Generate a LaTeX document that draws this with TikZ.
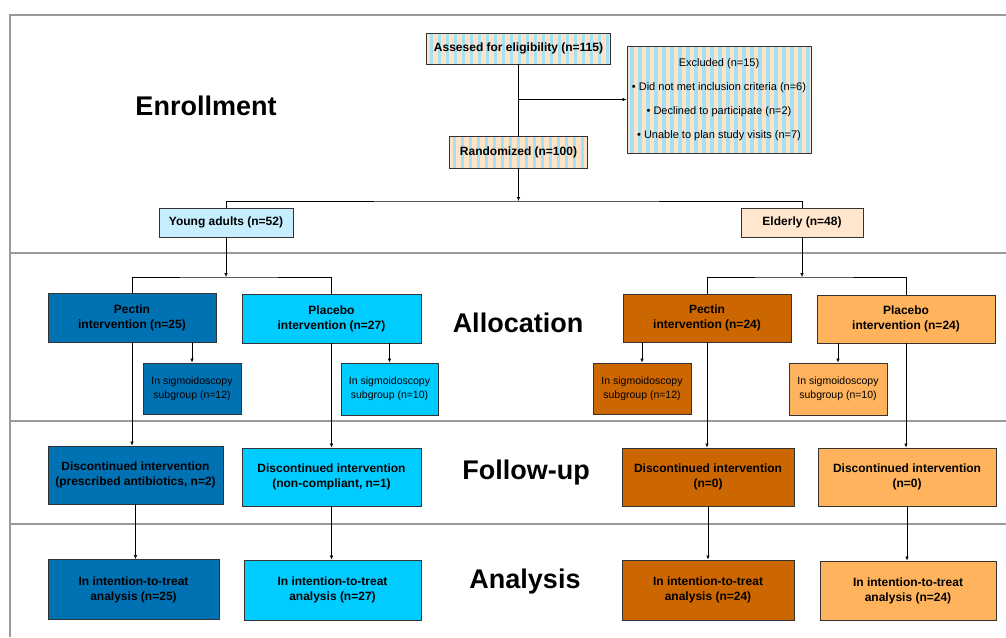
\documentclass[tikz,border=0pt]{standalone}
\usepackage{fontspec}
\setmainfont{Liberation Sans}
\usetikzlibrary{arrows.meta}
\definecolor{pecblue}{HTML}{0072B4}
\definecolor{plablue}{HTML}{00CCFF}
\definecolor{pecorange}{HTML}{CC6600}
\definecolor{plaorange}{HTML}{FFB35C}
\definecolor{youngfill}{HTML}{C6EEFF}
\definecolor{elderfill}{HTML}{FFE6CC}
\definecolor{stripepeach}{HTML}{FFE3C4}
\definecolor{stripeblue}{HTML}{A4E0F8}
\definecolor{sectline}{HTML}{9A9A9A}

\tikzset{
  box/.style={draw=black!80, line width=0.9pt, align=center, inner sep=0pt,
    font=\fontsize{12}{15}\selectfont\bfseries},
  subbox/.style={box, font=\fontsize{10.5}{14}\selectfont},
  striped/.style={fill=stripepeach, path picture={
      \foreach \s in {0,8,...,192}
        \fill[stripeblue] ([xshift=\s pt+3pt]path picture bounding box.south west) rectangle ++(3.5pt,120pt);}},
  stage/.style={font=\fontsize{27}{32}\selectfont\bfseries},
  arr/.style={-{Latex[length=4pt,width=3.5pt]}},
  sect/.style={draw=sectline, line width=1.3pt},
}

\begin{document}
\begin{tikzpicture}[x=1pt,y=-1pt,line width=0.6pt]
\useasboundingbox (0,0) rectangle (1006,637);
% stage frames
\draw[sect] (1006,15) -- (10,15) -- (10,637);
\foreach \y in {253,421,524} \draw[sect] (10,\y) -- (1006,\y);

% stage labels
\node[stage] (enrol) at (206,106) {Enrollment};
\node[stage] (alloc) at (518,323) {Allocation};
\node[stage] (follow) at (526,473) {Follow-up};
\node[stage] (anal) at (525,582) {Analysis};

% enrollment
\node[box,striped,minimum width=184,minimum height=31] (assess) at (518.5,48.5) {Assesed for eligibility (n=115)};
\node[box,striped,minimum width=184,minimum height=107,font=\fontsize{11}{24}\selectfont] (excl) at (719,99.5)
  {Excluded (n=15)\\ \textbullet\ Did not met inclusion criteria (n=6)\\ \textbullet\ Declined to participate (n=2)\\ \textbullet\ Unable to plan study visits (n=7)};
\node[box,striped,minimum width=138,minimum height=32] (rand) at (518.5,152) {Randomized (n=100)};
\node[box,fill=youngfill,minimum width=134,minimum height=29] (young) at (226,222.5) {Young adults (n=52)};
\node[box,fill=elderfill,minimum width=122,minimum height=29] (elder) at (802,222.5) {Elderly (n=48)};

% allocation
\node[box,fill=pecblue,minimum width=168,minimum height=49] (ypec) at (132,317.5) {Pectin\\intervention (n=25)};
\node[box,fill=plablue,minimum width=179,minimum height=49] (ypla) at (331.5,318.5) {Placebo\\intervention (n=27)};
\node[box,fill=pecorange,minimum width=168,minimum height=48] (epec) at (707,318) {Pectin\\intervention (n=24)};
\node[box,fill=plaorange,minimum width=178,minimum height=48] (epla) at (906,319) {Placebo\\intervention (n=24)};
\node[subbox,fill=pecblue,minimum width=98,minimum height=51] (ypecs) at (192,388.5) {In sigmoidoscopy\\subgroup (n=12)};
\node[subbox,fill=plablue,minimum width=97,minimum height=52] (yplas) at (389.5,389) {In sigmoidoscopy\\subgroup (n=10)};
\node[subbox,fill=pecorange,minimum width=98,minimum height=51] (epecs) at (642,388.5) {In sigmoidoscopy\\subgroup (n=12)};
\node[subbox,fill=plaorange,minimum width=98,minimum height=52] (eplas) at (838,389) {In sigmoidoscopy\\subgroup (n=10)};

% follow-up
\node[box,fill=pecblue,minimum width=175,minimum height=58] (ypecd) at (135.5,475) {Discontinued intervention\\(prescribed antibiotics, n=2)};
\node[box,fill=plablue,minimum width=179,minimum height=58] (yplad) at (331.5,477) {Discontinued intervention\\(non-compliant, n=1)};
\node[box,fill=pecorange,minimum width=172,minimum height=58] (epecd) at (708,477) {Discontinued intervention\\(n=0)};
\node[box,fill=plaorange,minimum width=178,minimum height=58] (eplad) at (907,477) {Discontinued intervention\\(n=0)};

% analysis
\node[box,fill=pecblue,minimum width=171,minimum height=60] (ypeca) at (133.5,589.5) {In intention-to-treat\\analysis (n=25)};
\node[box,fill=plablue,minimum width=177,minimum height=60] (yplaa) at (332.5,590) {In intention-to-treat\\analysis (n=27)};
\node[box,fill=pecorange,minimum width=172,minimum height=60] (epeca) at (708,590) {In intention-to-treat\\analysis (n=24)};
\node[box,fill=plaorange,minimum width=176,minimum height=59] (eplaa) at (908,590.5) {In intention-to-treat\\analysis (n=24)};

% connectors
\coordinate (rsplit) at (518.5,201);
\coordinate (ysplit) at (226,277);
\coordinate (esplit) at (802,277);
\draw (assess) -- (rand);
\draw[arr] (assess.south |- excl.west) -- (excl.west);
\draw[arr] (rand) -- (rsplit);
\draw (young.north) |- (rsplit) -| (elder.north);
\draw[arr] (young) -- (ysplit);
\draw (ypec.north) |- (ysplit) -| (ypla.north);
\draw[arr] (elder) -- (esplit);
\draw (epec.north) |- (esplit) -| (epla.north);
\foreach \a/\b in {ypec/ypecs,ypla/yplas,epec/epecs,epla/eplas}
  \draw[arr] (\a.south -| \b.north) -- (\b.north);
\foreach \a/\b/\c in {ypec/ypecd/ypeca,ypla/yplad/yplaa,epec/epecd/epeca,epla/eplad/eplaa}{
  \draw[arr] (\a.south) -- (\a.south |- \b.north);
  \draw[arr] (\b.south) -- (\b.south |- \c.north);
}
\end{tikzpicture}
\end{document}
